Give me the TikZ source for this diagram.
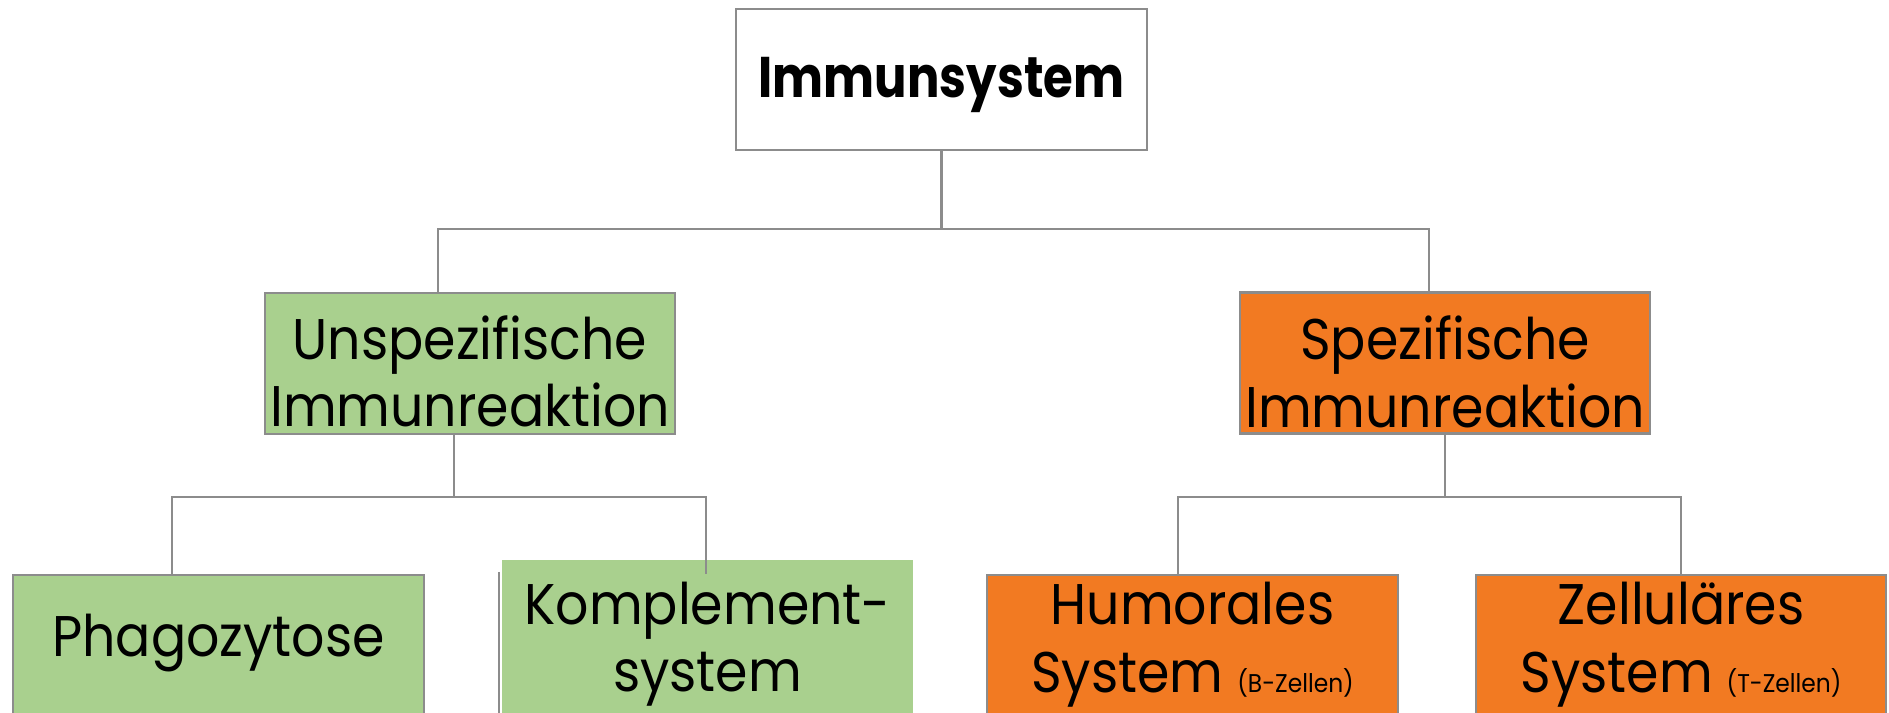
\documentclass[tikz,border=0pt]{standalone}
\usepackage{fontspec}
\setmainfont{Poppins}[FakeStretch=0.91]
\newfontfamily\titelfont{Poppins}[FakeStretch=0.84]
\usetikzlibrary{calc}
\definecolor{gruen}{HTML}{A9D08E}
\definecolor{orangefill}{HTML}{F27A22}
\definecolor{rahmen}{HTML}{8C8C8C}

\begin{document}
\begin{tikzpicture}[x=0.01cm,y=-0.01cm,
  kasten/.style={draw=rahmen,line width=0.6pt,minimum width=4.1cm,minimum height=1.41cm,
    inner sep=0pt,align=center,font=\fontsize{16.3}{19.1}\selectfont},
  grund/.style={text height=#1,text depth=0pt},
  linie/.style={rahmen,line width=0.6pt}]
  \path[use as bounding box] (0,0) rectangle (1889,713);
  \clip (0,0) rectangle (1889,713);
  % oberste ebene
  \node[kasten,fill=white,grund=10.5pt,font=\fontsize{16.3}{19.1}\titelfont\bfseries] (immun) at (941.5,79.5) {Immunsystem};
  % zweite ebene
  \node[kasten,fill=gruen,grund=36.1pt] (unspez) at (470,363.5) {Unspezifische\\Immunreaktion};
  \node[kasten,fill=orangefill,grund=36.4pt] (spez) at (1445,363) {Spezifische\\Immunreaktion};
  % dritte ebene
  \node[kasten,fill=gruen,grund=6.5pt] (phago) at (218.5,645.5) {Phagozytose};
  \node[kasten,fill=gruen,draw=none,minimum height=1.56cm,grund=30.7pt] (kompl) at (707.5,638) {Komplement-\\system};
  \draw[linie] ($(kompl.north west)+(-2,13)$) -- ($(kompl.south west)+(-2,0)$);
  \node[kasten,fill=orangefill,grund=26.5pt] (humor) at (1192.5,645.5) {Humorales\\System {\fontsize{7.3}{9}\selectfont(B-Zellen)}};
  \node[kasten,fill=orangefill,grund=26.5pt] (zell) at (1681,645.5) {Zelluläres\\System {\fontsize{7.3}{9}\selectfont(T-Zellen)}};
  % verbindungen
  \draw[linie] (immun.south) -- ++(0,78) -| ($(unspez.north)+(-32,0)$);
  \draw[linie] (immun.south) -- ++(0,78) -| ($(spez.north)+(-16,0)$);
  \draw[linie] ($(unspez.south)+(-16,0)$) -- ++(0,62) -| ($(phago.north)+(-46.5,0)$);
  \draw[linie] ($(unspez.south)+(-16,0)$) -- ++(0,62) -| ($(kompl.north)+(-1.5,15)$);
  \draw[linie] (spez.south) -- ++(0,62) -| ($(humor.north)+(-14.5,0)$);
  \draw[linie] (spez.south) -- ++(0,62) -| (zell.north);
\end{tikzpicture}
\end{document}
